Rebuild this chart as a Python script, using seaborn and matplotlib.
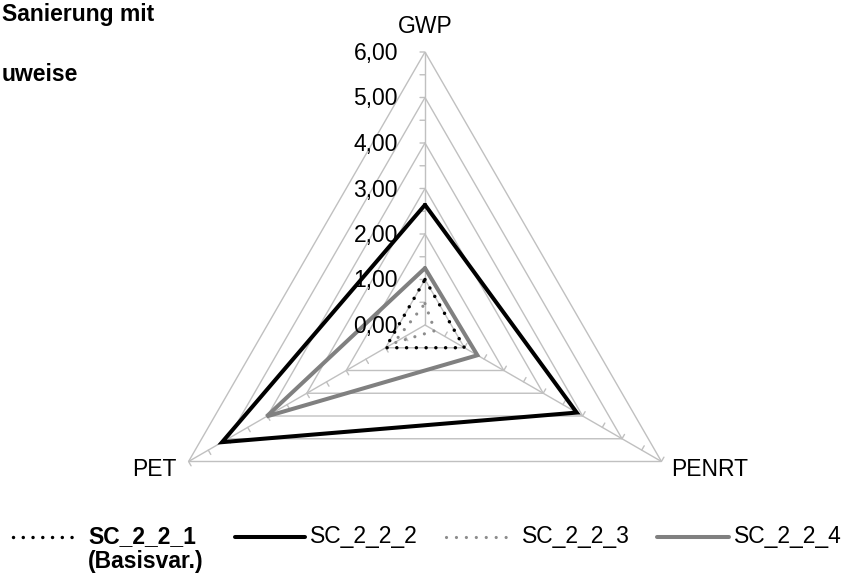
import numpy as np
import pandas as pd
import matplotlib
matplotlib.use("Agg")
import matplotlib.pyplot as plt
from matplotlib.lines import Line2D
import seaborn as sns

# ---- data -------------------------------------------------------------
categories = ["GWP", "PENRT", "PET"]
angles_deg = [90, -30, 210]          # radar spoke directions
sc_2_2_1 = [1.00, 1.00, 1.00]
sc_2_2_2 = [2.64, 3.85, 5.15]
sc_2_2_3 = [0.47, 0.25, 0.80]
sc_2_2_4 = [1.25, 1.33, 4.02]
series_names = ["SC_2_2_1\n(Basisvar.)", "SC_2_2_2", "SC_2_2_3", "SC_2_2_4"]
tick_values = [0, 1, 2, 3, 4, 5, 6]
tick_labels = ["0,00", "1,00", "2,00", "3,00", "4,00", "5,00", "6,00"]
title_lines = ["Sanierung mit", "uweise"]

# ---- style ------------------------------------------------------------
sns.set_theme(style="white")
plt.rcParams["font.family"] = ["Liberation Sans", "DejaVu Sans"]
FS = 16.5
GRID = "#c0c0c0"

W, H = 849, 574
fig = plt.figure(figsize=(W / 100, H / 100), dpi=100)
fig.patch.set_facecolor("white")

cx, cy, R = 425, 325, 273
ax = fig.add_axes([(cx - R) / W, (H - cy - R) / H, 2 * R / W, 2 * R / H],
                  projection="polar")
ax.set_facecolor("none")
ax.grid(False)
ax.spines["polar"].set_visible(False)
ax.set_xticks([])
ax.set_yticks([])
rmax = tick_values[-1]
ax.set_ylim(0, rmax)

theta = np.deg2rad(angles_deg)
theta_closed = np.append(theta, theta[0])

# triangular gridlines
for lvl in tick_values[1:]:
    ax.plot(theta_closed, [lvl] * 4, color=GRID, lw=1.0, zorder=1)
# spokes
for th in theta:
    ax.plot([th, th], [0, rmax], color=GRID, lw=1.0, zorder=1)
# small tick marks on each spoke (every 0.5)
tick_len = 5.0
for th in theta:
    nx, ny = -np.sin(th), np.cos(th)  # perpendicular, rotated CCW
    for r in np.arange(0.5, rmax + 0.01, 0.5):
        ax.annotate("", xy=(th, r), xytext=(nx * tick_len, ny * tick_len),
                    textcoords="offset pixels",
                    arrowprops=dict(arrowstyle="-", color=GRID, lw=1.0,
                                    shrinkA=0, shrinkB=0), zorder=1)

# radial value labels along the GWP spoke
for v, lab in zip(tick_values, tick_labels):
    ax.annotate(lab, xy=(theta[0], v), xytext=(-27, -8),
                textcoords="offset pixels", ha="right", va="baseline",
                fontsize=FS, color="black", zorder=5)

# category labels
label_offsets = [((0, 19), "center"), ((10, -14.5), "left"), ((-12, -14.5), "right")]
for th, cat, (off, ha) in zip(theta, categories, label_offsets):
    ax.annotate(cat, xy=(th, rmax), xytext=off, textcoords="offset pixels",
                ha=ha, va="baseline", fontsize=FS, color="black")

# ---- series -----------------------------------------------------------
styles = [
    dict(color="black", lw=2.5, linestyle=(0, (0.01, 2.8)), dash_capstyle="round"),
    dict(color="black", lw=2.9, linestyle="-", solid_joinstyle="miter"),
    dict(color="#8c8c8c", lw=2.3, linestyle=(0, (0.01, 3.1)), dash_capstyle="round"),
    dict(color="#808080", lw=2.9, linestyle="-", solid_joinstyle="miter"),
]
all_series = [sc_2_2_1, sc_2_2_2, sc_2_2_3, sc_2_2_4]
for vals, st in zip(all_series, styles):
    df = pd.DataFrame({"theta": theta_closed, "value": vals + vals[:1]})
    sns.lineplot(data=df, x="theta", y="value", sort=False, estimator=None,
                 ax=ax, zorder=3, **st)
ax.set_xlabel("")
ax.set_ylabel("")
ax.set_ylim(0, rmax)

# ---- legend (bottom row) ------------------------------------------------
def fx(px):
    return px / W

def fy(py):
    return 1 - py / H

leg_y = 537
handle_spans = [(13, 72), (235, 305), (446, 506), (657, 729)]
text_x = [88, 310, 522, 734]
for (x0, x1), tx, name, st in zip(handle_spans, text_x, series_names, styles):
    fig.add_artist(Line2D([fx(x0), fx(x1)], [fy(leg_y), fy(leg_y)],
                          transform=fig.transFigure, **st))
    bold = "Basisvar" in name
    lines = name.split("\n")
    for i, ln in enumerate(lines):
        fig.text(fx(tx), fy(543 + i * 25), ln, fontsize=FS,
                 fontweight="bold" if bold else "normal",
                 ha="left", va="baseline", color="black")

# ---- heading fragments ----------------------------------------------------
fig.text(fx(2), fy(21), title_lines[0], fontsize=FS, fontweight="bold",
         ha="left", va="baseline", color="black")
fig.text(fx(2), fy(81), title_lines[1], fontsize=FS, fontweight="bold",
         ha="left", va="baseline", color="black")

fig.savefig("out.png", dpi=100)
